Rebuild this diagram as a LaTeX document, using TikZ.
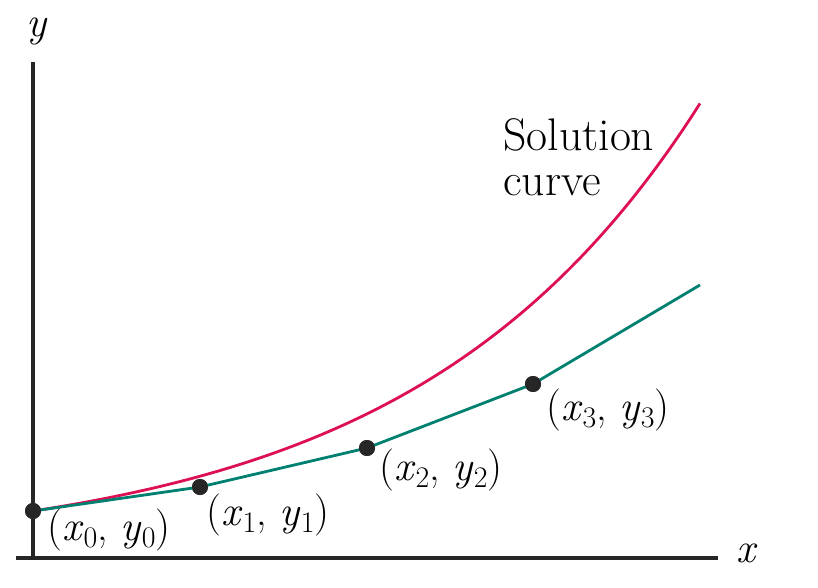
\documentclass[tikz,border=0pt]{standalone}
\usepackage{fontspec}
\usetikzlibrary{positioning}
\definecolor{solred}{RGB}{222,16,84}
\definecolor{eulgreen}{RGB}{0,128,112}
\newcommand{\subidx}[1]{\raisebox{-0.4ex}{\fontsize{17}{17}\selectfont #1}}
\newcommand{\ptxy}[1]{(\textit{x}\subidx{#1}, \textit{y}\subidx{#1})}

\begin{document}
\begin{tikzpicture}[
    x=0.02cm, y=-0.02cm,
    axisline/.style={line width=1.8pt, black!85},
    solcurve/.style={line width=1.6pt, solred},
    euler/.style={line width=1.6pt, eulgreen},
    dot/.style={circle, fill=black!85, inner sep=0pt, minimum size=0.32cm},
    ptlabel/.style={inner sep=0pt, font=\fontsize{24}{28}\selectfont}
]
\useasboundingbox (0,0) rectangle (818,588);

% axes
\coordinate (O)    at (33,558);
\coordinate (xend) at (718,558);
\coordinate (xbeg) at (16,558);
\coordinate (yend) at (33,62);
\draw[axisline] (xbeg) -- (xend);
\draw[axisline] (O) -- (yend);
\node[ptlabel] (xlab) at (747,553) {\textit{x}};
\node[ptlabel] (ylab) at (37,32)   {\textit{y}};

% solution curve
\draw[solcurve] plot[domain=33:700, samples=80, smooth]
    (\x, {511-43.9*(exp(0.0035*(\x-33))-1)});
\node[ptlabel, anchor=north west, align=left,
      font=\fontsize{26}{25.5}\selectfont] (sol) at (503,118) {Solution\\curve};

% Euler steps
\node[dot] (p0) at (33,511) {};
\node[dot] (p1) at (200,487) {};
\node[dot] (p2) at (367,448) {};
\node[dot] (p3) at (533,384) {};
\coordinate (p4) at (700,285);
\draw[euler] (p0.center) -- (p1.center) -- (p2.center) -- (p3.center) -- (p4);
\foreach \p in {p0,p1,p2,p3}
    \node[dot] at (\p) {};

\node[ptlabel] (l0) at (109,530) {\ptxy{0}};
\node[ptlabel] (l1) at (268,515) {\ptxy{1}};
\node[ptlabel] (l2) at (441,470) {\ptxy{2}};
\node[ptlabel] (l3) at (608,410) {\ptxy{3}};
\end{tikzpicture}
\end{document}
